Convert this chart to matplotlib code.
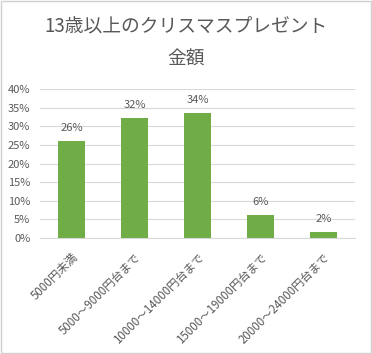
import matplotlib
matplotlib.use("Agg")
import matplotlib.pyplot as plt
from matplotlib.patches import Rectangle

plt.rcParams['font.family'] = ['Noto Sans CJK JP', 'DejaVu Sans']

categories = ["5000円未満", "5000～9000円台まで", "10000～14000円台まで",
              "15000～19000円台まで", "20000～24000円台まで"]
values = [26.1, 32.3, 33.6, 6.2, 1.6]
value_labels = ["26%", "32%", "34%", "6%", "2%"]
yticks = [0, 5, 10, 15, 20, 25, 30, 35, 40]
ytick_labels = [f"{v}%" for v in yticks]
title = "13歳以上のクリスマスプレゼント\n金額"

W, H = 372, 354
fig = plt.figure(figsize=(W / 100, H / 100), dpi=100)
ax = fig.add_axes([40 / W, 1 - 238 / H, 315 / W, (238 - 89) / H])

gray = "#595959"
x = list(range(len(categories)))
ax.bar(x, values, width=0.44, color="#70AD47", zorder=3)
for xi, v, lab in zip(x, values, value_labels):
    ax.text(xi, v + 2.1, lab, ha="center", va="bottom", fontsize=8, color=gray)

ax.set_xlim(-0.5, len(categories) - 0.5)
ax.set_ylim(0, 40)
ax.set_yticks(yticks)
ax.set_yticklabels(ytick_labels, fontsize=8, color=gray)
ax.set_xticks(x)
ax.set_xticklabels(categories, rotation=45, ha="right", rotation_mode="anchor",
                   fontsize=8.3, color=gray)
ax.tick_params(axis="y", length=0, pad=7)
ax.tick_params(axis="x", length=0, pad=9)
ax.grid(axis="y", color="#D9D9D9", linewidth=0.8, zorder=0)
for s in ["top", "right", "left"]:
    ax.spines[s].set_visible(False)
ax.spines["bottom"].set_color("#D9D9D9")

fig.text(0.5, 1 - 43 / H, title, ha="center", va="center", fontsize=13.5,
         color=gray, linespacing=1.75)

fig.patches.append(Rectangle((0.003, 0.003), 0.994, 0.994, transform=fig.transFigure,
                             fill=False, edgecolor="#D0D0D0", linewidth=1))

fig.savefig("out.png", dpi=100)
